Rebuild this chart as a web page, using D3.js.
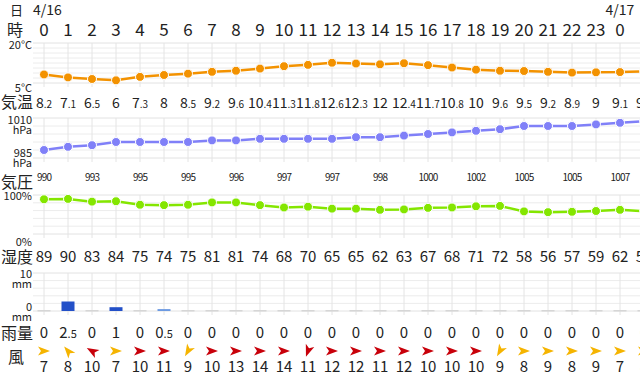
<!DOCTYPE html>
<html>
<head>
<meta charset="utf-8">
<script src="https://cdn.jsdelivr.net/npm/d3@7"></script>
<style>
  body { margin: 0; background: #fff; }
  svg { display: block; font-family: "Noto Sans CJK JP", "Noto Sans", sans-serif; }
</style>
</head>
<body>
<script>
// data
var hours = [0,1,2,3,4,5,6,7,8,9,10,11,12,13,14,15,16,17,18,19,20,21,22,23,0,1]
var temps = [8.2,7.1,6.5,6,7.3,8,8.5,9.2,9.6,10.4,11.3,11.8,12.6,12.3,12,12.4,11.7,10.8,10,9.6,9.5,9.2,8.9,9,9.1,9.4]
var pressure = [990,992,993,995,995,995,995,996,996,997,997,997,997,998,998,999,1000,1001,1002,1003,1005,1005,1005,1006,1007,1008]
var humidity = [89,90,83,84,75,74,75,81,81,74,68,70,65,65,62,63,67,68,71,72,58,56,57,59,62,58]
var rain = [0,2.5,0,1,0,0.5,0,0,0,0,0,0,0,0,0,0,0,0,0,0,0,0,0,0,0,0]
var windSpeed = [7,8,10,7,10,11,9,10,13,14,14,11,12,12,11,12,10,10,10,9,8,9,8,9,7,8]
// direction the arrow points, degrees clockwise from east
var windDir = [0,230,210,0,0,0,120,0,0,0,0,110,0,0,0,0,0,0,0,120,0,0,0,0,0,0]
var dates = ["4/16", "4/17"]

function main() {
  var svg = d3.select("body").append("svg").attr("width", 640).attr("height", 376)

  var x = d3.scaleLinear().domain([0, 25]).range([44, 644])
  var left = 33

  // date row
  svg.append("text").text("日").attr("x", 10).attr("y", 15).attr("font-size", 13).attr("fill", "#222")
  svg.append("text").text(dates[0]).attr("x", 33).attr("y", 15).attr("font-size", 14).attr("fill", "#222")
  svg.append("text").text(dates[1]).attr("x", x(24)).attr("y", 15).attr("font-size", 14)
    .attr("fill", "#222").attr("text-anchor", "middle")

  // hour row
  rowLabel(svg, "時", 36, 7)
  svg.selectAll(".hour").data(hours).enter().append("text")
    .attr("x", function(d, i) { return x(i) })
    .attr("y", 36)
    .attr("text-anchor", "middle")
    .attr("font-size", 17)
    .attr("fill", "#222")
    .text(function(d) { return d })

  // temperature
  var yT = d3.scaleLinear().domain([5, 20]).range([83, 43])
  grid(svg, x, left, 43, 83, 8)
  axisLabel(svg, "20°C", 49)
  axisLabel(svg, "5°C", 92)
  lineChart(svg, x, yT, temps, "#f39200")

  rowLabel(svg, "気温", 108)
  var tl = svg.selectAll(".tval").data(temps).enter().append("text")
    .attr("x", function(d, i) { return x(i) })
    .attr("y", 108)
    .attr("text-anchor", "middle")
    .attr("font-size", 14)
    .attr("fill", "#222")
  tl.each(function(d) {
    var parts = String(d).split(".")
    var t = d3.select(this)
    t.append("tspan").text(parts[0])
    if (parts.length > 1) t.append("tspan").attr("font-size", 10).text("." + parts[1])
  })

  // pressure
  var yP = d3.scaleLinear().domain([985, 1010]).range([158, 118])
  grid(svg, x, left, 118, 158, 5)
  axisLabel(svg, "1010", 124)
  axisLabel(svg, "hPa", 134)
  axisLabel(svg, "985", 157)
  axisLabel(svg, "hPa", 167)
  lineChart(svg, x, yP, pressure, "#8080f8")

  rowLabel(svg, "気圧", 188)
  svg.selectAll(".pval").data(pressure).enter().append("text")
    .filter(function(d, i) { return i % 2 == 0 })
    .attr("x", function(d, i) { return x(i * 2) })
    .attr("y", 181)
    .attr("text-anchor", "middle")
    .attr("font-size", 10)
    .attr("letter-spacing", -0.8)
    .attr("fill", "#222")
    .text(function(d) { return d })

  // humidity
  var yH = d3.scaleLinear().domain([0, 100]).range([234, 195])
  grid(svg, x, left, 195, 234, 5)
  axisLabel(svg, "100%", 200)
  axisLabel(svg, "0%", 246)
  lineChart(svg, x, yH, humidity, "#84e600")

  rowLabel(svg, "湿度", 263)
  svg.selectAll(".hval").data(humidity).enter().append("text")
    .attr("x", function(d, i) { return x(i) })
    .attr("y", 262)
    .attr("text-anchor", "middle")
    .attr("font-size", 15)
    .attr("fill", "#222")
    .text(function(d) { return d })

  // rain
  var yR = d3.scaleLinear().domain([0, 10]).range([311, 273])
  grid(svg, x, left, 273, 311, 5)
  axisLabel(svg, "10", 278)
  axisLabel(svg, "mm", 288)
  axisLabel(svg, "0", 311)
  axisLabel(svg, "mm", 321)
  svg.selectAll(".bar").data(rain).enter().append("rect")
    .attr("x", function(d, i) { return x(i) - 6.5 })
    .attr("width", 13)
    .attr("y", function(d) { return d > 0 ? yR(d) : 310 })
    .attr("height", function(d) { return d > 0 ? yR(0) - yR(d) : 1.5 })
    .attr("fill", function(d) { return d >= 1 ? "#2350c8" : d > 0 ? "#6c9ae2" : "#d6d6d6" })

  rowLabel(svg, "雨量", 339)
  var rl = svg.selectAll(".rval").data(rain).enter().append("text")
    .attr("x", function(d, i) { return x(i) })
    .attr("y", 338)
    .attr("text-anchor", "middle")
    .attr("font-size", 15)
    .attr("fill", "#222")
  rl.each(function(d) {
    var parts = String(d).split(".")
    var t = d3.select(this)
    t.append("tspan").text(parts[0])
    if (parts.length > 1) t.append("tspan").attr("font-size", 11).text("." + parts[1])
  })

  // wind
  rowLabel(svg, "風", 363, 8)
  svg.selectAll(".arrow").data(windSpeed).enter().append("path")
    .attr("d", "M6,0 L-6,-4.5 L-3,0 L-6,4.5 Z")
    .attr("transform", function(d, i) { return "translate(" + x(i) + ",351) rotate(" + windDir[i] + ")" })
    .attr("fill", function(d) { return d >= 10 ? "#c8000a" : "#f5b400" })
  svg.selectAll(".wval").data(windSpeed).enter().append("text")
    .attr("x", function(d, i) { return x(i) })
    .attr("y", 372)
    .attr("text-anchor", "middle")
    .attr("font-size", 15)
    .attr("fill", "#222")
    .text(function(d) { return d })
}

function rowLabel(svg, txt, y, x) {
  svg.append("text").text(txt).attr("x", x || 1).attr("y", y)
    .attr("font-size", 16).attr("fill", "#222")
}

function axisLabel(svg, txt, y) {
  svg.append("text").text(txt).attr("x", 32).attr("y", y)
    .attr("text-anchor", "end").attr("font-size", 11).attr("fill", "#222")
}

function grid(svg, x, left, top, bottom, n) {
  var g = svg.append("g")
  var step = (bottom - top) / n
  g.selectAll(".h").data(d3.range(n + 1)).enter().append("line")
    .attr("x1", left).attr("x2", 640)
    .attr("y1", function(d) { return top + d * step })
    .attr("y2", function(d) { return top + d * step })
    .attr("stroke", function(d) { return d == 0 || d == n ? "#e2e2e2" : "#ececec" })
  g.selectAll(".v").data(hours).enter().append("line")
    .attr("x1", function(d, i) { return x(i) }).attr("x2", function(d, i) { return x(i) })
    .attr("y1", top).attr("y2", bottom + 4)
    .attr("stroke", "#e4e4e4")
}

function lineChart(svg, x, y, values, color) {
  var line = d3.line().x(function(d, i) { return x(i) }).y(function(d) { return y(d) })
  svg.append("path").datum(values).attr("d", line)
    .attr("fill", "none").attr("stroke", color).attr("stroke-width", 2.5)
  svg.selectAll(null).data(values).enter().append("circle")
    .attr("cx", function(d, i) { return x(i) })
    .attr("cy", function(d) { return y(d) })
    .attr("r", 4.5)
    .attr("fill", color).attr("stroke", "#fff").attr("stroke-width", 1)
}

main()
</script>
</body>
</html>
